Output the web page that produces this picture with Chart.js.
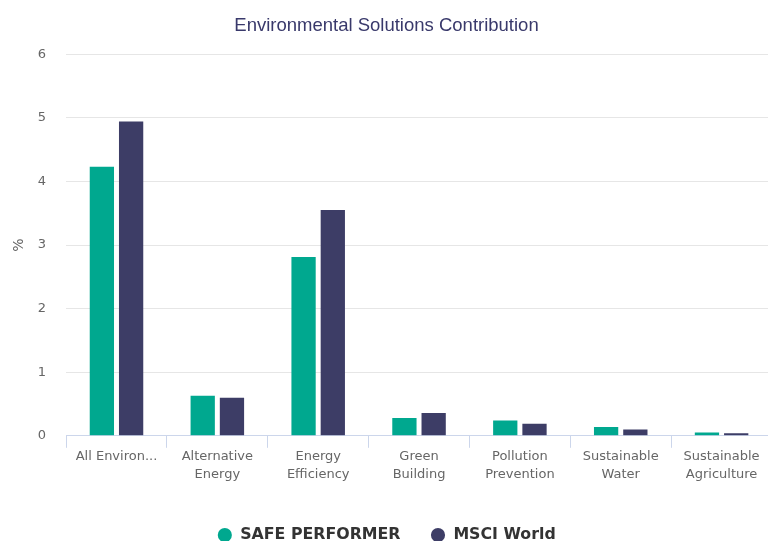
<!DOCTYPE html>
<html>
<head>
<meta charset="utf-8">
<script src="https://cdn.jsdelivr.net/npm/chart.js@4"></script>
<style>
  html, body { margin: 0; padding: 0; background: #fff; overflow: hidden; }
  #wrap { width: 768px; height: 541px; overflow: hidden; }
</style>
</head>
<body>
<div id="wrap"><canvas id="envChart" width="777" height="541"></canvas></div>
<script>
// カテゴリとシリーズ
const categories = ['All Environmental Solutions', 'Alternative Energy', 'Energy Efficiency', 'Green Building',
  'Pollution Prevention', 'Sustainable Water', 'Sustainable Agriculture'];
const tickLabels = [['All Environ...'], ['Alternative', 'Energy'], ['Energy', 'Efficiency'], ['Green', 'Building'],
  ['Pollution', 'Prevention'], ['Sustainable', 'Water'], ['Sustainable', 'Agriculture']];
const safePerformer = [4.23, 0.63, 2.81, 0.28, 0.24, 0.14, 0.05];
const msciWorld = [4.94, 0.60, 3.55, 0.36, 0.19, 0.10, 0.04];
const yTicks = [0, 1, 2, 3, 4, 5, 6];

const GREEN = '#00a88f';
const NAVY = '#3d3d66';

const ctx = document.getElementById('envChart');
new Chart(ctx, {
  type: 'bar',
  data: {
    labels: categories,
    datasets: [{
      label: 'SAFE PERFORMER',
      data: safePerformer,
      backgroundColor: GREEN,
      categoryPercentage: 0.58,
      barPercentage: 0.83
    }, {
      label: 'MSCI World',
      data: msciWorld,
      backgroundColor: NAVY,
      categoryPercentage: 0.58,
      barPercentage: 0.83
    }]
  },
  options: {
    responsive: false,
    animation: false,
    layout: { padding: { left: 1, right: 5, top: 8, bottom: -12 } },
    plugins: {
      title: {
        display: true,
        text: 'Environmental Solutions Contribution',
        color: '#39396b',
        font: { family: 'Liberation Sans', size: 18.5, weight: 'normal' },
        padding: { top: 7, bottom: 17 }
      },
      legend: {
        position: 'bottom',
        labels: {
          usePointStyle: true,
          pointStyle: 'circle',
          boxWidth: 15,
          boxHeight: 10,
          padding: 30,
          color: '#333',
          font: { family: 'DejaVu Sans', size: 15.8, weight: 'bold' }
        }
      },
      tooltip: { enabled: false }
    },
    scales: {
      x: {
        // 凡例との間隔を広げる
        afterFit: scale => { scale.height += 13; },
        grid: {
          display: true,
          drawOnChartArea: false,
          drawTicks: true,
          tickLength: 12,
          color: '#ccd6eb'
        },
        border: { color: '#ccd6eb' },
        ticks: {
          color: '#666',
          font: { family: 'DejaVu Sans', size: 13, lineHeight: 1.4 },
          maxRotation: 0,
          autoSkip: false,
          padding: 0,
          callback: (v, i) => tickLabels[i]
        }
      },
      y: {
        min: 0,
        max: 6,
        afterBuildTicks: axis => { axis.ticks = yTicks.map(v => ({ value: v })); },
        grid: { color: '#e6e6e6', drawTicks: false },
        border: { display: false },
        ticks: {
          color: '#666',
          font: { family: 'DejaVu Sans', size: 13 },
          padding: 20
        },
        title: {
          display: true,
          text: '%',
          color: '#666',
          font: { family: 'DejaVu Sans', size: 14 },
          padding: { top: 10, bottom: -10 }
        }
      }
    }
  }
});
</script>
</body>
</html>
